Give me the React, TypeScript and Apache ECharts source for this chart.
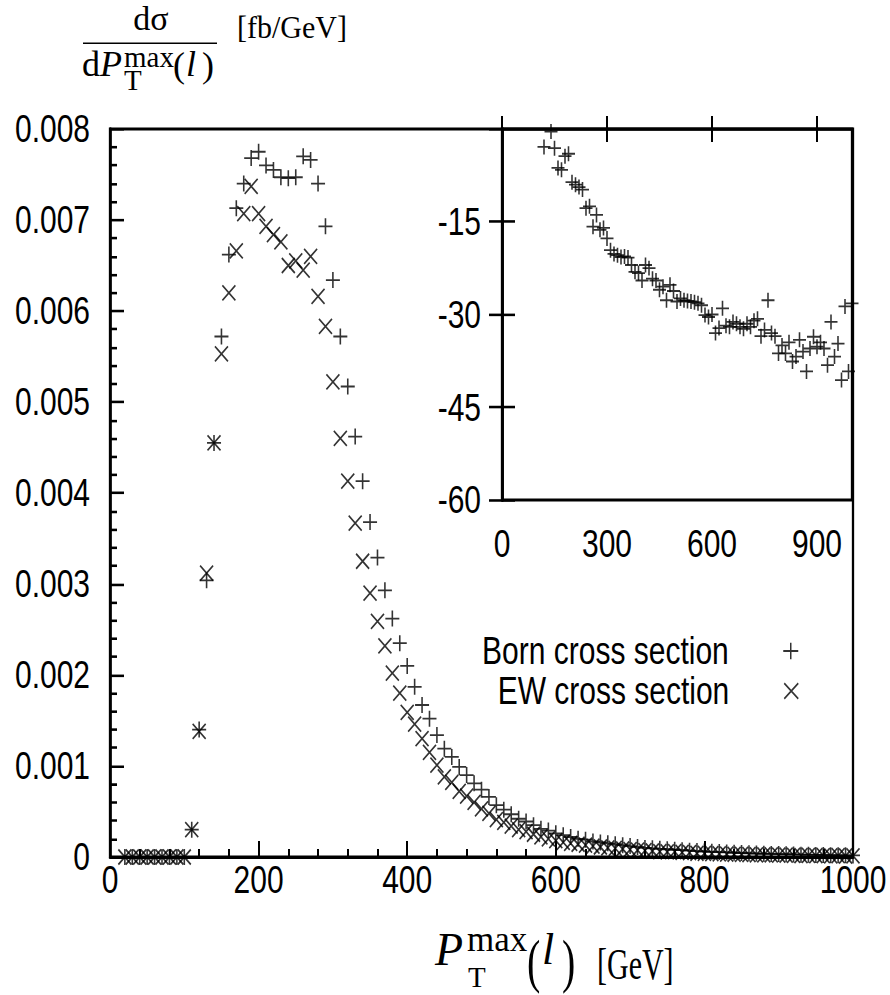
import React, { useEffect, useRef } from "react";
import * as echarts from "echarts";

// P_T^max(l) bin positions [GeV]
const ptValues = [
  20, 30, 40, 50, 60, 70, 80, 90, 100, 110,
  120, 130, 140, 150, 160, 170, 180, 190, 200, 210,
  220, 230, 240, 250, 260, 270, 280, 290, 300, 310,
  320, 330, 340, 350, 360, 370, 380, 390, 400, 410,
  420, 430, 440, 450, 460, 470, 480, 490, 500, 510,
  520, 530, 540, 550, 560, 570, 580, 590, 600, 610,
  620, 630, 640, 650, 660, 670, 680, 690, 700, 710,
  720, 730, 740, 750, 760, 770, 780, 790, 800, 810,
  820, 830, 840, 850, 860, 870, 880, 890, 900, 910,
  920, 930, 940, 950, 960, 970, 980, 990, 1000,
];

// Born cross section dσ/dP_T [fb/GeV]
const bornValues = [
  0, 0, 0, 0, 0, 0, 0, 0, 0, 0.0003,
  0.0014, 0.00304, 0.00455, 0.00572, 0.00662, 0.00713, 0.0074, 0.00768, 0.00775, 0.0076,
  0.00755, 0.00747, 0.00746, 0.00747, 0.0077, 0.00766, 0.0074, 0.00693, 0.00634, 0.00572,
  0.00517, 0.00462, 0.00413, 0.00368, 0.00329, 0.00293, 0.00262, 0.00235, 0.0021, 0.00187,
  0.00167, 0.00152, 0.00134, 0.00119, 0.0011, 0.00099, 0.0009, 0.00081, 0.00074, 0.00066,
  0.00057, 0.00052, 0.00047, 0.00042, 0.00039, 0.00035, 0.00031, 0.00029, 0.00026, 0.00024,
  0.00022, 0.0002, 0.00019, 0.00017, 0.00016, 0.00015, 0.00014, 0.00013, 0.00012, 0.00011,
  0.0001, 0.000095, 0.00009, 0.000085, 0.00008, 0.000075, 0.00007, 0.000065, 0.00006, 0.000057,
  0.000054, 0.00005, 0.000047, 0.000044, 0.000041, 0.000038, 0.000036, 0.000034, 0.000032, 0.00003,
  0.000028, 0.000026, 0.000025, 0.000023, 0.000022, 0.00002, 0.000019, 0.000018, 0.000017,
];

// EW corrected cross section dσ/dP_T [fb/GeV]
const ewValues = [
  0, 0, 0, 0, 0, 0, 0, 0, 0, 0.0003,
  0.00138, 0.00312, 0.00455, 0.00553, 0.0062, 0.00666, 0.00707, 0.00737, 0.00707, 0.00693,
  0.00684, 0.00676, 0.0065, 0.00655, 0.00645, 0.0066, 0.00616, 0.00583, 0.00522, 0.0046,
  0.00413, 0.00367, 0.00325, 0.0029, 0.00259, 0.00232, 0.00202, 0.0018, 0.00159, 0.00146,
  0.0013, 0.00115, 0.00101, 0.00088, 0.00082, 0.00072, 0.00067, 0.0006, 0.00053, 0.00048,
  0.00041, 0.00038, 0.00034, 0.0003, 0.00028, 0.00025, 0.00022, 0.0002, 0.00018, 0.00016,
  0.00015, 0.00014, 0.00013, 0.00012, 0.00011, 0.0001, 0.000095, 0.000088, 0.000082, 0.000075,
  0.00007, 0.000066, 0.00006, 0.000057, 0.000058, 0.00005, 0.000047, 0.000041, 0.000039, 0.000036,
  0.000035, 0.000031, 0.00003, 0.000029, 0.000026, 0.000023, 0.000023, 0.000023, 0.000021, 0.00002,
  0.000018, 0.000016, 0.000017, 0.000015, 0.000014, 0.000012, 0.000014, 0.000011, 0.000012,
];

// Inset: relative EW correction [%]
const insetPt = [
  120, 140, 150, 160, 170, 180, 190, 200, 210, 220,
  230, 240, 250, 260, 270, 280, 290, 300, 310, 320,
  330, 340, 350, 360, 370, 380, 390, 400, 410, 420,
  430, 440, 450, 460, 470, 480, 490, 500, 510, 520,
  530, 540, 550, 560, 570, 580, 590, 600, 610, 620,
  630, 640, 650, 660, 670, 680, 690, 700, 710, 720,
  730, 740, 750, 760, 770, 780, 790, 800, 810, 820,
  830, 840, 850, 860, 870, 880, 890, 900, 910, 920,
  930, 940, 950, 960, 970, 980, 990, 1000,
];
const insetDelta = [
  -2.9, -0.4, -3.1, -6.3, -6.6, -4.4, -4.0, -8.6, -9.0, -9.4,
  -9.8, -12.8, -12.5, -15.8, -13.9, -16.3, -16.0, -17.7, -19.6, -20.2,
  -20.4, -20.7, -20.6, -20.8, -22.0, -23.1, -23.3, -24.5, -22.0, -22.5,
  -24.2, -24.5, -26.0, -25.5, -27.7, -25.2, -26.2, -27.9, -27.4, -27.7,
  -27.8, -27.9, -28.0, -28.2, -28.5, -30.1, -30.4, -30.0, -33.0, -32.2,
  -29.0, -31.8, -32.0, -31.2, -31.5, -32.0, -32.3, -31.5, -32.0, -31.0,
  -30.7, -33.5, -32.5, -27.7, -33.0, -33.5, -36.3, -35.0, -36.3, -34.5,
  -37.6, -36.8, -34.1, -36.0, -39.2, -35.5, -33.6, -35.2, -34.5, -35.5,
  -38.2, -31.2, -36.8, -34.7, -40.6, -28.7, -39.2, -28.2,
];

const SANS = "'Liberation Sans', Arial, sans-serif";
const SERIF = "'Liberation Serif', 'DejaVu Serif', serif";
const PLUS = "path://M0,5 L10,5 M5,0 L5,10";
const CROSS = "path://M0,0 L10,10 M0,10 L10,0";
const LEG_PLUS = "path://M0,6.5 L15,6.5 M7.5,0 L7.5,13";
const LEG_CROSS = "path://M0,0 L14,12 M0,12 L14,0";

// The figure is drawn at a reduced height and stretched vertically (like the original EPS).
const S = 1.28;
const W = 890;
const H = 995;

export default function App() {
  const ref = useRef<HTMLDivElement>(null);
  useEffect(() => {
    if (!ref.current) return;
    const chart = echarts.init(ref.current, undefined, { renderer: "svg" });
    const born = ptValues.map((x, i) => [x, bornValues[i]]);
    const ew = ptValues.map((x, i) => [x, ewValues[i]]);
    const inset = insetPt.map((x, i) => [x, insetDelta[i]]);
    const vy = (y: number) => y / S;
    const xLine = { show: true, lineStyle: { color: "#000", width: 2.1 } };
    const yLine = { show: true, lineStyle: { color: "#000", width: 2.7 } };
    const label = { color: "#000", fontSize: 30, fontFamily: SANS };
    const markerStyle = { color: "transparent", borderColor: "#000", borderWidth: 1.5 };
    const txt = (
      text: string, x: number, y: number, size: number, extra: any = {}, sy = 1,
    ) => ({
      type: "text",
      x,
      y: vy(y),
      scaleY: sy / S,
      style: {
        text,
        fontSize: size,
        fontFamily: SERIF,
        fill: "#000",
        align: "left",
        verticalAlign: "middle",
        ...extra,
      },
    });
    const legendText = { fontSize: 30, fontFamily: SANS, color: "#000", lineHeight: 30 };
    chart.setOption({
      animation: false,
      backgroundColor: "#fff",
      textStyle: { fontFamily: SANS },
      grid: [
        {
          left: 110, top: vy(129), width: 743, height: vy(728),
          show: true, borderColor: "#000", borderWidth: 2.3,
        },
        {
          left: 502, top: vy(129), width: 350, height: vy(371), show: true,
          borderColor: "#000", borderWidth: 2.3, backgroundColor: "#fff",
        },
      ],
      xAxis: [
        {
          gridIndex: 0, type: "value", min: 0, max: 1000, interval: 200,
          axisLine: xLine,
          axisTick: { inside: true, length: vy(16), lineStyle: { color: "#000", width: 2 } },
          minorTick: { show: true, splitNumber: 5, length: vy(8), lineStyle: { color: "#000", width: 2 } },
          splitLine: { show: false },
          axisLabel: { ...label, margin: 3, formatter: (v: number) => String(v) },
        },
        {
          gridIndex: 1, type: "value", min: 0, max: 1000, interval: 300,
          axisLine: xLine,
          axisTick: { inside: true, length: vy(13), lineStyle: { color: "#000", width: 2 } },
          splitLine: { show: false },
          axisLabel: { ...label, margin: 19, showMaxLabel: false, formatter: (v: number) => String(v) },
        },
        {
          gridIndex: 1, type: "value", min: 0, max: 1000, interval: 300, position: "top",
          axisLine: xLine,
          axisTick: { inside: true, length: vy(13), lineStyle: { color: "#000", width: 2 } },
          splitLine: { show: false },
          axisLabel: { show: false },
        },
      ],
      yAxis: [
        {
          gridIndex: 0, type: "value", min: 0, max: 0.008, interval: 0.001,
          axisLine: yLine,
          axisTick: { inside: true, length: 14, lineStyle: { color: "#000", width: 2 } },
          minorTick: { show: true, splitNumber: 5, length: 7, lineStyle: { color: "#000", width: 2 } },
          splitLine: { show: false },
          axisLabel: { ...label, margin: 20, formatter: (v: number) => (v === 0 ? "0" : v.toFixed(3)) },
        },
        {
          gridIndex: 1, type: "value", min: -60, max: 0, interval: 15,
          axisLine: yLine,
          axisTick: { inside: true, length: 13, lineStyle: { color: "#000", width: 2 } },
          splitLine: { show: false },
          axisLabel: { ...label, margin: 21, showMaxLabel: false },
        },
        {
          gridIndex: 1, type: "value", min: -60, max: 0, interval: 15, position: "right",
          axisLine: yLine,
          axisTick: { inside: true, length: 13, lineStyle: { color: "#000", width: 2 } },
          splitLine: { show: false },
          axisLabel: { show: false },
        },
      ],
      legend: [
        {
          data: [{ name: "Born cross section", icon: LEG_PLUS }],
          align: "right", right: 91, top: vy(651) - 15, padding: 0,
          itemWidth: 114, itemHeight: 13, selectedMode: false,
          itemStyle: markerStyle, textStyle: legendText,
        },
        {
          data: [{ name: "EW cross section", icon: LEG_CROSS }],
          align: "right", right: 91, top: vy(691) - 15, padding: 0,
          itemWidth: 114, itemHeight: 12, selectedMode: false,
          itemStyle: markerStyle, textStyle: legendText,
        },
      ],
      series: [
        {
          name: "Born cross section", type: "scatter", xAxisIndex: 0, yAxisIndex: 0,
          data: born, symbol: PLUS, symbolSize: [14, vy(16)], clip: false, itemStyle: markerStyle,
        },
        {
          name: "EW cross section", type: "scatter", xAxisIndex: 0, yAxisIndex: 0,
          data: ew, symbol: CROSS, symbolSize: [13, vy(15)], clip: false, itemStyle: markerStyle,
        },
        {
          name: "EW correction", type: "scatter", xAxisIndex: 1, yAxisIndex: 1,
          data: inset, symbol: PLUS, symbolSize: [13, vy(15)], clip: true, itemStyle: markerStyle,
        },
      ],
      graphic: [
        // y-axis title: dσ / dP_T^max(l) [fb/GeV]
        txt("dσ", 151, 19, 34, { align: "center" }),
        { type: "rect", shape: { x: 83, y: vy(42.5), width: 134, height: vy(1.6) }, style: { fill: "#000" } },
        txt("d", 82, 64, 36, { lineHeight: 28 }),
        txt("P", 100, 64, 36, { fontStyle: "italic", lineHeight: 26 }),
        txt("max", 124, 57, 29, { lineHeight: 16 }),
        txt("T", 124, 80, 29, { lineHeight: 20 }),
        txt("(", 173, 65, 36, { lineHeight: 28 }),
        txt("l", 186, 64, 36, { fontStyle: "italic", lineHeight: 28 }),
        txt(")", 202, 65, 36, { lineHeight: 28 }),
        txt("[fb/GeV]", 237, 28, 30, {}, 1.05),
        // x-axis title: P_T^max(l) [GeV]
        txt("P", 435, 950, 46, { fontStyle: "italic", lineHeight: 34 }),
        txt("max", 467, 940, 35, { lineHeight: 18 }),
        txt("T", 468, 977, 29, { lineHeight: 20 }),
        txt("(", 527, 961, 40, { lineHeight: 36 }, 1.5),
        txt("l", 542, 950, 44, { fontStyle: "italic", lineHeight: 34 }),
        txt(")", 562, 961, 40, { lineHeight: 36 }, 1.5),
        txt("[GeV]", 597, 964, 30, {}, 1.5),
      ],
    });
    return () => chart.dispose();
  }, []);
  return (
    <div
      ref={ref}
      style={{
        position: "absolute", left: 0, top: 0, width: W, height: H / S,
        background: "#fff", transform: `scaleY(${S})`, transformOrigin: "0 0",
      }}
    />
  );
}
